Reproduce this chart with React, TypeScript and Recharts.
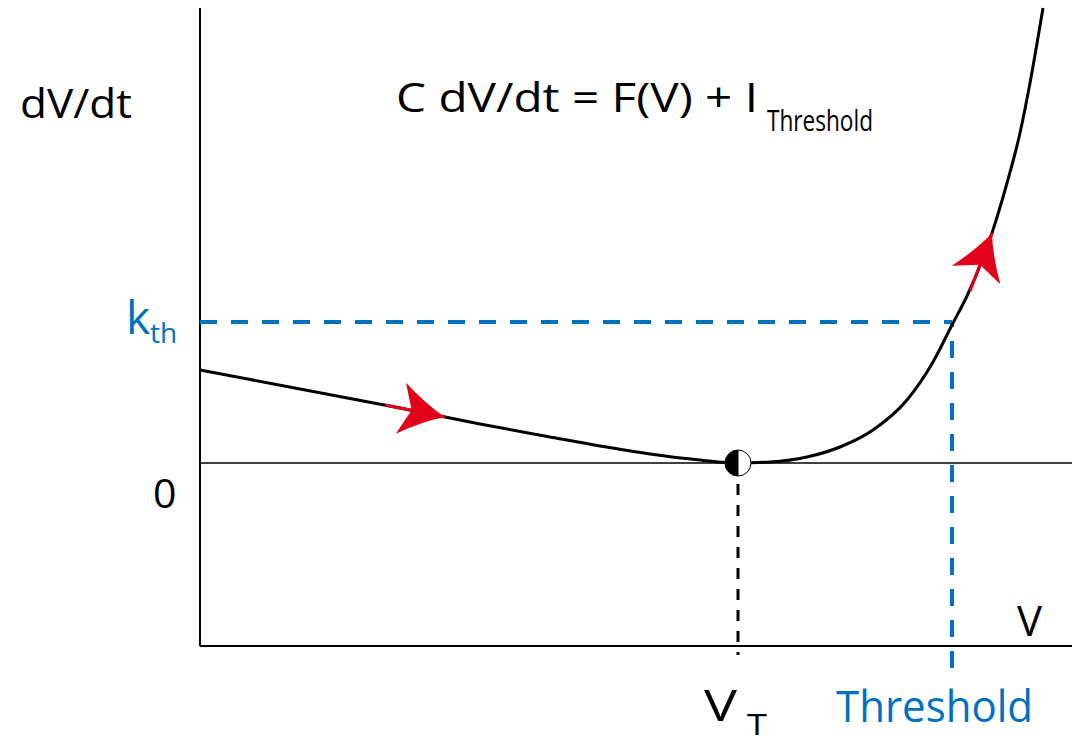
import { LineChart, Line, XAxis, YAxis, ReferenceLine, ReferenceDot } from 'recharts'

// V runs along x, dV/dt along y; zero of dV/dt sits at the stable point V_T
const curveV = [0, 100, 200, 280, 350, 400, 450, 500, 538, 570, 607, 640, 673, 707, 733, 753, 767, 792, 807, 820, 830, 843]
const curveRate = [93, 74, 55, 39, 26, 17, 9, 3, 0, 1, 6, 16, 33, 63, 101, 140, 167, 230, 280, 330, 380, 455]

const V_T = 538
const THRESHOLD = 752
const K_TH = 141

// arrow shafts: [tail, tip] along the curve
const arrowLeftV = [185, 245]
const arrowLeftRate = [58, 46]
const arrowRightV = [770, 792]
const arrowRightRate = [172, 230]

// plot frame: the V axis sits at AXIS_Y, dashed guides run a bit below it
const X_DOMAIN: [number, number] = [0, 872]
const Y_DOMAIN: [number, number] = [-205, 455]
const AXIS_Y = -183

const curve = curveV.map((v, i) => ({ v, rate: curveRate[i] }))
const arrowLeft = arrowLeftV.map((v, i) => ({ v, rate: arrowLeftRate[i] }))
const arrowRight = arrowRightV.map((v, i) => ({ v, rate: arrowRightRate[i] }))

const BLUE = '#0070c0'
const RED = '#e2001a'
const FONT = '"Open Sans", "Noto Sans", sans-serif'

function makeArrowHead() {
    let prev: { x: number; y: number } | null = null
    return (props: any) => {
        const { cx, cy, index, points } = props
        if (index === 0) {
            prev = { x: cx, y: cy }
            return <g key={`a-${index}`} />
        }
        const from = points && points[index - 1] ? { x: points[index - 1].x, y: points[index - 1].y } : prev
        if (!from) return <g key={`a-${index}`} />
        const dx = cx - from.x
        const dy = cy - from.y
        const len = Math.hypot(dx, dy) || 1
        const ux = dx / len
        const uy = dy / len
        const nx = -uy
        const ny = ux
        const back = 45
        const half = 26
        const notch = 34
        const w1 = [cx - ux * back + nx * half, cy - uy * back + ny * half]
        const w2 = [cx - ux * back - nx * half, cy - uy * back - ny * half]
        const nc = [cx - ux * notch, cy - uy * notch]
        const c1 = [cx - ux * 20 + nx * 8, cy - uy * 20 + ny * 8]
        const c2 = [cx - ux * 20 - nx * 8, cy - uy * 20 - ny * 8]
        const d = `M${cx},${cy} Q${c1[0]},${c1[1]} ${w1[0]},${w1[1]} L${nc[0]},${nc[1]} L${w2[0]},${w2[1]} Q${c2[0]},${c2[1]} ${cx},${cy} Z`
        return <path key={`a-${index}`} d={d} fill={RED} stroke="none" />
    }
}

function HalfDot(props: any) {
    const { cx, cy } = props
    const r = 13
    return (
        <g>
            <circle cx={cx} cy={cy} r={r} fill="#fff" stroke="#000" strokeWidth={1} />
            <path d={`M${cx},${cy - r} A${r},${r} 0 0 0 ${cx},${cy + r} Z`} fill="#000" />
            <line x1={cx} y1={cy - r} x2={cx} y2={cy + r} stroke="#000" strokeWidth={1} />
        </g>
    )
}

export default function App() {
    return (
        <div style={{ position: 'absolute', left: 0, top: 0, width: 1078, height: 742, background: '#fff' }}>
            <LineChart width={1078} height={742} margin={{ top: 8, right: 6, bottom: 74, left: 200 }}>
                <XAxis type="number" dataKey="v" domain={X_DOMAIN} hide />
                <YAxis type="number" dataKey="rate" domain={Y_DOMAIN} hide />
                {/* axis lines */}
                <ReferenceLine
                    segment={[{ x: X_DOMAIN[0], y: AXIS_Y }, { x: X_DOMAIN[0], y: Y_DOMAIN[1] }]}
                    stroke="#000"
                    strokeWidth={2}
                />
                <ReferenceLine y={AXIS_Y} stroke="#000" strokeWidth={2} />
                <ReferenceLine y={0} stroke="#000" strokeWidth={1.5} />
                <ReferenceLine
                    segment={[{ x: 0, y: K_TH }, { x: THRESHOLD, y: K_TH }]}
                    stroke={BLUE}
                    strokeWidth={4}
                    strokeDasharray="17 14"
                />
                <ReferenceLine
                    segment={[{ x: THRESHOLD, y: Y_DOMAIN[0] }, { x: THRESHOLD, y: K_TH }]}
                    stroke={BLUE}
                    strokeWidth={4}
                    strokeDasharray="17 14"
                />
                <ReferenceLine
                    segment={[{ x: V_T, y: 0 }, { x: V_T, y: -192 }]}
                    stroke="#000"
                    strokeWidth={3}
                    strokeDasharray="11 10"
                />
                <Line
                    data={curve}
                    dataKey="rate"
                    type="monotone"
                    stroke="#000"
                    strokeWidth={3}
                    dot={false}
                    activeDot={false}
                    isAnimationActive={false}
                />
                <Line
                    data={arrowLeft}
                    dataKey="rate"
                    type="linear"
                    stroke={RED}
                    strokeWidth={3}
                    dot={makeArrowHead()}
                    activeDot={false}
                    isAnimationActive={false}
                />
                <Line
                    data={arrowRight}
                    dataKey="rate"
                    type="linear"
                    stroke={RED}
                    strokeWidth={3}
                    dot={makeArrowHead()}
                    activeDot={false}
                    isAnimationActive={false}
                />
                <ReferenceDot x={V_T} y={0} r={13} shape={HalfDot} />
            </LineChart>
            <svg
                width={1078}
                height={742}
                style={{ position: 'absolute', left: 0, top: 0, pointerEvents: 'none' }}
                fontFamily={FONT}
            >
                <text x={20} y={118} fontSize={40} fill="#000" textLength={112} lengthAdjust="spacingAndGlyphs">dV/dt</text>
                <text x={396} y={112} fontSize={41} fill="#000" textLength={362} lengthAdjust="spacingAndGlyphs">
                    C dV/dt = F(V) + I
                </text>
                <text x={767} y={131} fontSize={29} fill="#000" textLength={106} lengthAdjust="spacingAndGlyphs">Threshold</text>
                <text x={126} y={334} fontSize={46} fill={BLUE}>k</text>
                <text x={150} y={343} fontSize={28} fill={BLUE}>th</text>
                <text x={153} y={508} fontSize={41} fill="#000">0</text>
                <text x={1017} y={636} fontSize={42} fill="#000">V</text>
                <text x={704} y={721} fontSize={43} fill="#000" textLength={33} lengthAdjust="spacingAndGlyphs">V</text>
                <text x={747} y={735} fontSize={29} fill="#000" textLength={20} lengthAdjust="spacingAndGlyphs">T</text>
                <text x={836} y={722} fontSize={43} fill={BLUE} textLength={197} lengthAdjust="spacingAndGlyphs">Threshold</text>
            </svg>
        </div>
    )
}
